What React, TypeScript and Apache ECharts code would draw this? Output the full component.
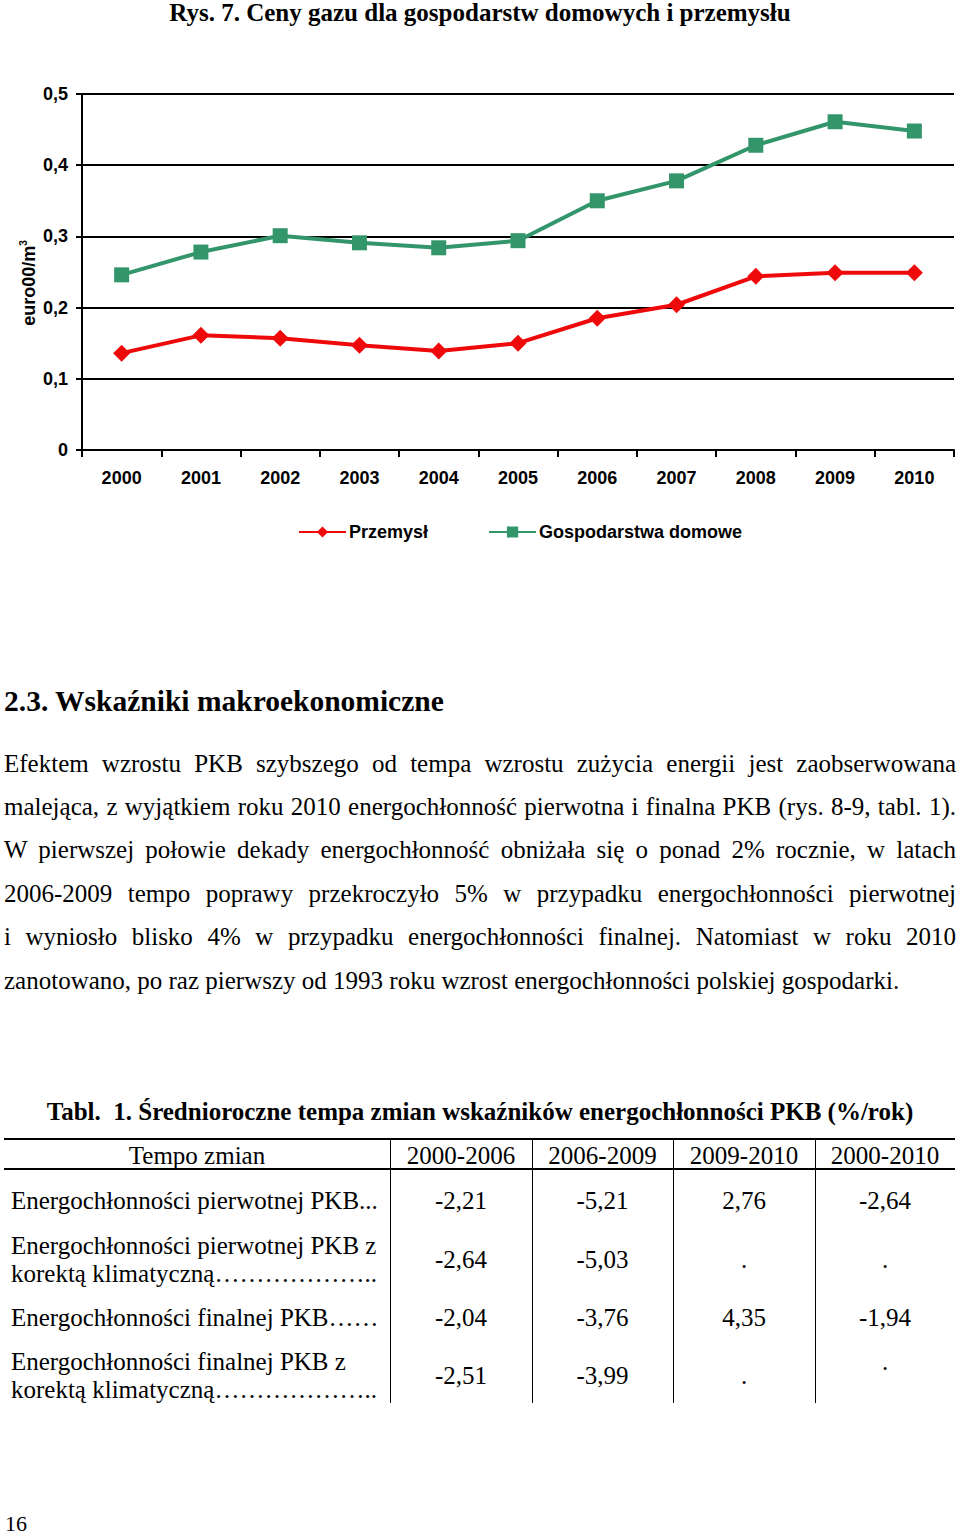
import React, { useEffect, useRef } from "react";
import * as echarts from "echarts";

const years = ["2000", "2001", "2002", "2003", "2004", "2005", "2006", "2007", "2008", "2009", "2010"];
const przemysl = [0.136, 0.161, 0.157, 0.147, 0.139, 0.15, 0.185, 0.204, 0.244, 0.249, 0.249];
const gospodarstwa = [0.246, 0.278, 0.301, 0.291, 0.284, 0.294, 0.35, 0.378, 0.428, 0.461, 0.448];
const yTicks = { min: 0, max: 0.5, interval: 0.1 };

const pageTitle = "Rys. 7. Ceny gazu dla gospodarstw domowych i przemysłu";
const heading = "2.3. Wskaźniki makroekonomiczne";
const paragraphLines = [
  "Efektem wzrostu PKB szybszego od tempa wzrostu zużycia energii jest zaobserwowana",
  "malejąca, z wyjątkiem roku 2010 energochłonność pierwotna i finalna PKB (rys. 8-9, tabl. 1).",
  "W pierwszej połowie dekady energochłonność obniżała się o ponad 2% rocznie, w latach",
  "2006-2009 tempo poprawy przekroczyło 5% w przypadku energochłonności pierwotnej",
  "i wyniosło blisko 4% w przypadku energochłonności finalnej. Natomiast w roku 2010",
  "zanotowano, po raz pierwszy od 1993 roku wzrost energochłonności polskiej gospodarki.",
];
const tableTitle = "Tabl.  1. Średnioroczne tempa zmian wskaźników energochłonności PKB (%/rok)";
const tableHeader = ["Tempo zmian", "2000-2006", "2006-2009", "2009-2010", "2000-2010"];
const rowLabels = [
  ["Energochłonności pierwotnej PKB..."],
  ["Energochłonności pierwotnej PKB z", "korektą klimatyczną……………….."],
  ["Energochłonności finalnej PKB……"],
  ["Energochłonności finalnej PKB z", "korektą klimatyczną……………….."],
];
const rowValues = [
  ["-2,21", "-5,21", "2,76", "-2,64"],
  ["-2,64", "-5,03", ".", "."],
  ["-2,04", "-3,76", "4,35", "-1,94"],
  ["-2,51", "-3,99", ".", "."],
];
const pageNumber = "16";

const SERIF = "'Liberation Serif', 'Times New Roman', serif";
const SANS = "'Liberation Sans', Arial, sans-serif";

function T(props: {
  x: number;
  y: number;
  size: number;
  bold?: boolean;
  align?: "left" | "center";
  width?: number;
  children: React.ReactNode;
}) {
  const { x, y, size, bold, align = "left", width, children } = props;
  const style: React.CSSProperties = {
    position: "absolute",
    top: y - size / 2,
    fontFamily: SERIF,
    fontSize: size,
    lineHeight: size + "px",
    fontWeight: bold ? "bold" : "normal",
    color: "#000",
    whiteSpace: "pre",
  };
  if (align === "center") {
    style.left = x - (width || 400) / 2;
    style.width = width || 400;
    style.textAlign = "center";
  } else {
    style.left = x;
  }
  return <div style={style}>{children}</div>;
}

function Chart() {
  const ref = useRef<HTMLDivElement>(null);
  useEffect(() => {
    if (!ref.current) return;
    const chart = echarts.init(ref.current, null, { renderer: "svg" });
    const labelFont = { fontFamily: SANS, fontWeight: "bold" as const, fontSize: 18, color: "#000" };
    chart.setOption({
      animation: false,
      grid: { left: 82, right: 6, top: 94, height: 356 },
      legend: {
        left: 293,
        top: 518,
        itemWidth: 47,
        itemHeight: 14,
        itemGap: 60,
        textStyle: { ...labelFont, padding: [0, 0, 0, -2] },
        data: ["Przemysł", "Gospodarstwa domowe"],
      },
      xAxis: {
        type: "category",
        data: years,
        boundaryGap: true,
        axisLine: { show: true, lineStyle: { color: "#000", width: 2 } },
        axisTick: { show: true, length: 7, lineStyle: { color: "#000", width: 2 } },
        axisLabel: { ...labelFont, margin: 19 },
        splitLine: { show: false },
      },
      yAxis: {
        type: "value",
        min: yTicks.min,
        max: yTicks.max,
        interval: yTicks.interval,
        name: "{a|euro00/m}{s|3}",
        nameLocation: "middle",
        nameRotate: 90,
        nameGap: 42,
        nameMoveOverlap: false,
        nameTextStyle: {
          padding: [0, 22, 0, 0],
          rich: {
            a: { fontFamily: SANS, fontWeight: "bold", fontSize: 18, color: "#000", lineHeight: 22 },
            s: { fontFamily: SANS, fontWeight: "bold", fontSize: 10, color: "#000", lineHeight: 10, verticalAlign: "top" },
          },
        },
        axisLine: { show: true, lineStyle: { color: "#000", width: 2 } },
        axisTick: { show: true, length: 6, lineStyle: { color: "#000", width: 2 } },
        axisLabel: {
          ...labelFont,
          margin: 14,
          formatter: (v: number) => (v === 0 ? "0" : v.toFixed(1).replace(".", ",")),
        },
        splitLine: { show: true, lineStyle: { color: "#000", width: 2 } },
      },
      series: [
        {
          name: "Przemysł",
          type: "line",
          data: przemysl,
          symbol: "diamond",
          symbolSize: 17,
          lineStyle: { color: "#EE0A0A", width: 4 },
          itemStyle: { color: "#EE0A0A" },
        },
        {
          name: "Gospodarstwa domowe",
          type: "line",
          data: gospodarstwa,
          symbol: "rect",
          symbolSize: 15,
          lineStyle: { color: "#33966A", width: 4 },
          itemStyle: { color: "#33966A" },
        },
      ],
    });
    return () => chart.dispose();
  }, []);
  return <div ref={ref} style={{ position: "absolute", left: 0, top: 0, width: 960, height: 560 }} />;
}

const colX = [4, 390, 532, 673, 815, 955];
const headerY = 1155;
const valueY = [1200, 1259, 1317, 1375];
const labelLineY = [[1200], [1245, 1273], [1317], [1361, 1389]];

export default function App() {
  return (
    <div style={{ position: "absolute", left: 0, top: 0, width: 960, height: 1537, background: "#fff", overflow: "hidden" }}>
      <T x={480} y={12} size={25} bold align="center" width={900}>
        {pageTitle}
      </T>
      <Chart />
      <T x={4} y={702} size={29.5} bold>
        {heading}
      </T>
      {paragraphLines.map((line, i) => {
        const last = i === paragraphLines.length - 1;
        return (
          <div
            key={i}
            style={{
              position: "absolute",
              left: 4,
              top: 763 + i * 43.4 - 12.5,
              width: 952,
              fontFamily: SERIF,
              fontSize: 25,
              lineHeight: "25px",
              textAlign: last ? "left" : "justify",
              textAlignLast: last ? "left" : "justify",
              color: "#000",
            }}
          >
            {line}
          </div>
        );
      })}
      <T x={480} y={1111} size={25} bold align="center" width={940}>
        {tableTitle}
      </T>
      <div style={{ position: "absolute", left: 4, top: 1138, width: 951, height: 2, background: "#000" }} />
      <div style={{ position: "absolute", left: 4, top: 1168, width: 951, height: 1.5, background: "#000" }} />
      {colX.slice(1, 5).map((x, i) => (
        <div key={i} style={{ position: "absolute", left: x, top: 1139, width: 1, height: 264, background: "#000" }} />
      ))}
      {tableHeader.map((h, i) => (
        <T key={i} x={(colX[i] + colX[i + 1]) / 2} y={headerY} size={25} align="center" width={colX[i + 1] - colX[i]}>
          {h}
        </T>
      ))}
      {rowLabels.map((lines, r) =>
        lines.map((l, k) => (
          <T key={r + "-" + k} x={11} y={labelLineY[r][k]} size={25}>
            {l}
          </T>
        ))
      )}
      {rowValues.map((vals, r) =>
        vals.map((v, c) => (
          <T
            key={r + "_" + c}
            x={(colX[c + 1] + colX[c + 2]) / 2}
            y={v === "." && r === 3 && c === 3 ? valueY[r] - 14 : valueY[r]}
            size={25}
            align="center"
            width={colX[c + 2] - colX[c + 1]}
          >
            {v}
          </T>
        ))
      )}
      <T x={5} y={1524} size={22}>
        {pageNumber}
      </T>
    </div>
  );
}
